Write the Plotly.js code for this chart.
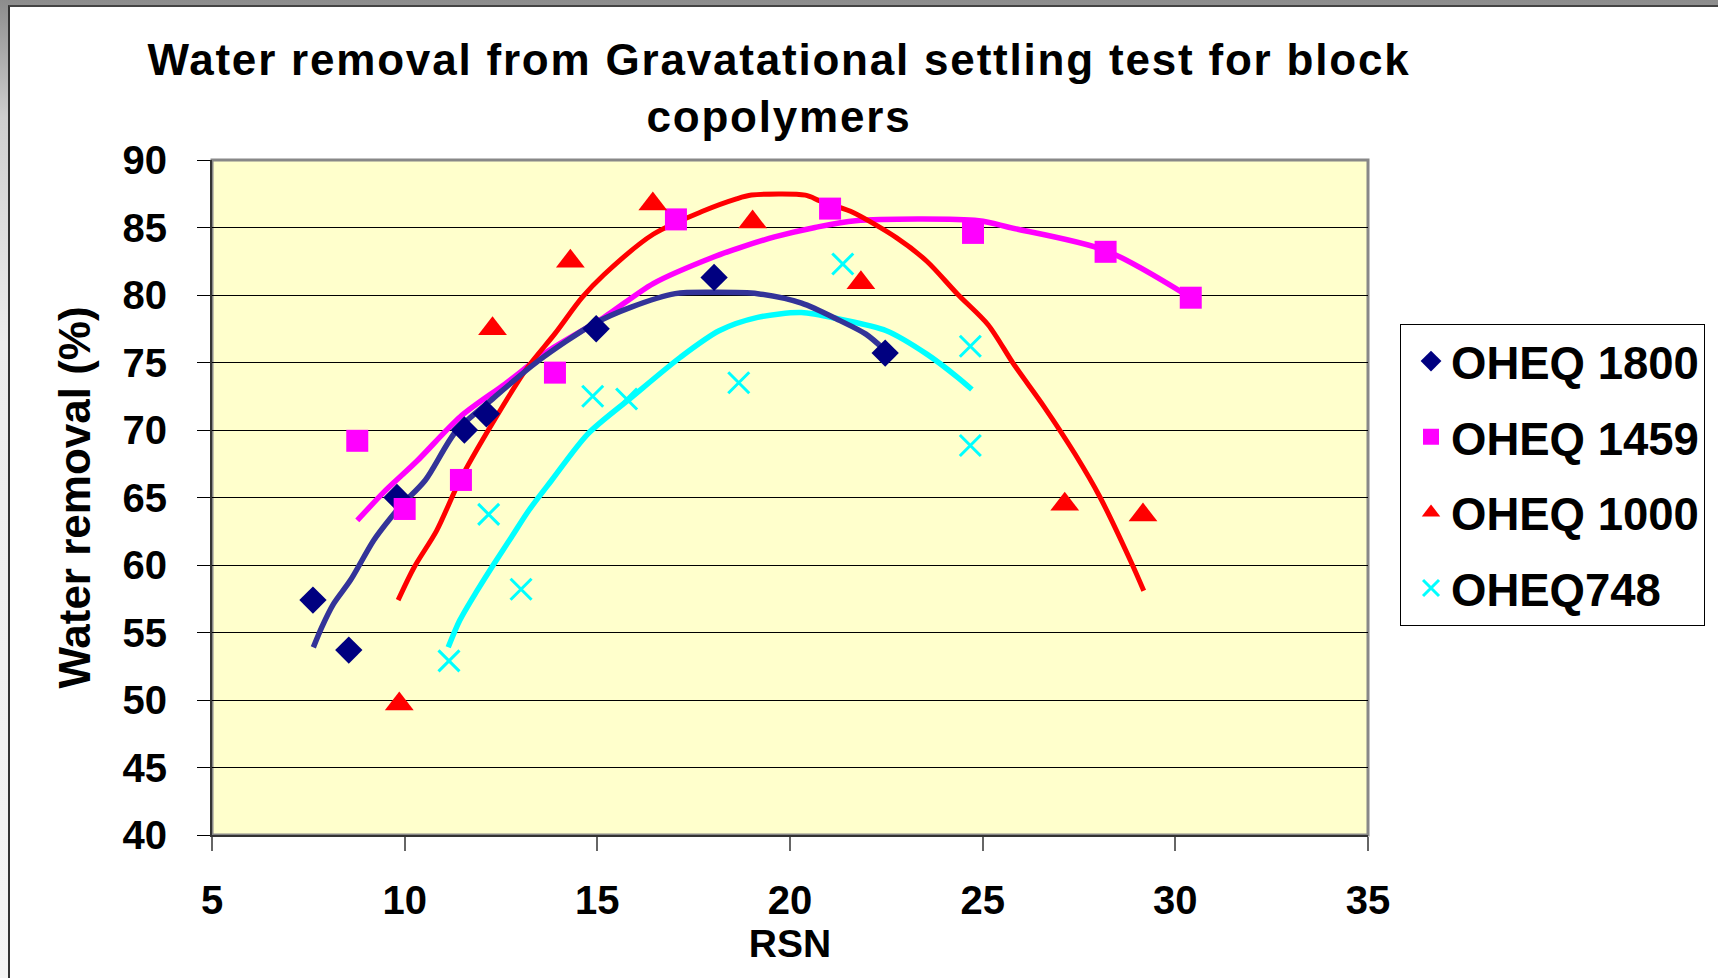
<!DOCTYPE html>
<html>
<head>
<meta charset="utf-8">
<script src="https://cdn.plot.ly/plotly-3.0.1.min.js"></script>
<style>
  html, body { margin: 0; padding: 0; }
  #page { position: relative; width: 1718px; height: 978px; overflow: hidden;
          background: linear-gradient(to bottom, #8c8c8c 0%, #cfcfcf 12%, #ececec 35%, #f4f4f4 100%); }
  #frame { position: absolute; left: 8px; top: 5px; width: 1708px; height: 971px;
           border-left: 2px solid #333; border-top: 2px solid #444; background: #fff; }
  #chart { width: 1708px; height: 971px; }
  #chart .gtitle { letter-spacing: 1.8px; }
</style>
</head>
<body>
<div id="page"><div id="frame"><div id="chart"></div></div></div>
<script>
// ---- data ----
const seriesNames = ["OHEQ 1800", "OHEQ 1459", "OHEQ 1000", "OHEQ748"];

// measured points
const x1800 = [7.62, 8.55, 9.8, 11.55, 12.12, 14.97, 18.03, 22.47];
const y1800 = [57.4, 53.7, 65.0, 70.0, 71.2, 77.5, 81.3, 75.7];
const x1459 = [8.77, 10.0, 11.46, 13.9, 17.04, 21.04, 24.75, 28.19, 30.4];
const y1459 = [69.2, 64.15, 66.3, 74.25, 85.6, 86.4, 84.6, 83.2, 79.8];
const x1000 = [9.86, 12.28, 14.3, 16.44, 19.03, 21.84, 27.13, 29.16];
const y1000 = [49.7, 77.5, 82.5, 86.75, 85.4, 80.9, 64.5, 63.7];
const x748  = [11.15, 12.18, 13.02, 14.88, 15.76, 18.67, 21.37, 24.68, 24.68];
const y748  = [52.9, 63.75, 58.2, 72.5, 72.3, 73.5, 82.3, 76.2, 68.85];

// trend curves
const tx1800 = [7.63, 7.85, 8.15, 8.6, 9.19, 9.64, 9.94, 10.54, 11.33, 12.32, 13.46, 14.9, 15.88, 17.02, 18.1, 19.16, 20.3, 21.3, 21.97, 22.47];
const ty1800 = [53.9, 55.4, 57.1, 58.9, 61.8, 63.5, 64.5, 66.3, 69.9, 72.4, 75.1, 77.85, 79.1, 80.1, 80.2, 80.1, 79.4, 78.1, 77.1, 75.9];
const tx1459 = [8.77, 9.46, 10.32, 11.45, 12.6, 13.75, 15.15, 16.45, 18.0, 18.8, 19.6, 20.65, 21.7, 24.9, 25.7, 28.19, 30.4];
const ty1459 = [63.3, 65.4, 67.7, 71.0, 73.4, 75.9, 78.3, 80.85, 82.8, 83.6, 84.3, 85.0, 85.5, 85.5, 85.0, 83.3, 79.8];
const tx1000 = [9.83, 10.24, 10.83, 11.43, 12.32, 13.18, 13.89, 14.6, 15.17, 16.45, 17.73, 18.59, 19.0, 20.4, 20.78, 21.57, 22.76, 23.55, 24.35, 25.14, 25.8, 26.6, 27.4, 28.05, 28.84, 29.18];
const ty1000 = [57.4, 59.8, 62.55, 66.25, 70.7, 74.6, 77.1, 79.8, 81.5, 84.5, 86.2, 87.1, 87.4, 87.4, 86.97, 86.2, 84.25, 82.5, 80.06, 77.8, 74.9, 71.7, 68.2, 65.0, 60.3, 58.1];
const tx748  = [11.13, 11.43, 11.88, 12.32, 12.77, 13.22, 13.81, 14.75, 15.88, 17.16, 18.16, 19.16, 20.3, 21.3, 22.5, 23.56, 24.35, 24.72];
const ty748  = [53.9, 55.9, 58.1, 60.1, 62.06, 64.04, 66.26, 69.7, 72.4, 75.4, 77.35, 78.34, 78.7, 78.2, 77.35, 75.6, 73.9, 73.0];

const xTicks = [5, 10, 15, 20, 25, 30, 35];
const yTicks = [40, 45, 50, 55, 60, 65, 70, 75, 80, 85, 90];

// ---- styling ----
const FONT = "Liberation Sans, Arial, Helvetica, sans-serif";
const cNavyMk = "#000080", cNavyLn = "#333399", cMag = "#FF00FF", cRed = "#FF0000", cCyan = "#00FFFF";

function trend(x, y, color, w) {
  return { x: x, y: y, type: "scatter", mode: "lines", showlegend: false, hoverinfo: "skip",
           line: { color: color, width: w, shape: "spline", smoothing: 0.8 } };
}
function pts(x, y, name, sym, color, size, group, extra) {
  const m = { symbol: sym, color: color, size: size, line: { width: 0 } };
  if (extra) Object.assign(m, extra);
  return { x: x, y: y, type: "scatter", mode: "markers", name: name, legendgroup: group, marker: m };
}

const data = [
  trend(tx1459, ty1459, cMag, 5.5),
  trend(tx1000, ty1000, cRed, 5),
  trend(tx748, ty748, cCyan, 5.5),
  trend(tx1800, ty1800, cNavyLn, 5.5),
  pts(x1800, y1800, seriesNames[0], "diamond", cNavyMk, 21, "g1"),
  pts(x1459, y1459, seriesNames[1], "square", cMag, 22, "g2"),
  pts(x1000, y1000, seriesNames[2], "triangle-up", cRed, 25, "g3"),
  pts(x748, y748, seriesNames[3], "x-thin", cCyan, 21, "g4", { line: { color: cCyan, width: 3 } })
];

const tickFont = { family: FONT, size: 40, color: "#000", weight: "bold" };

const layout = {
  width: 1708, height: 971,
  margin: { l: 202, r: 350, t: 153, b: 143, pad: 0 },
  paper_bgcolor: "#ffffff",
  plot_bgcolor: "#FFFFCC",
  font: { family: FONT, color: "#000" },
  title: {
    text: "Water removal from Gravatational settling test for block<br>copolymers",
    font: { family: FONT, size: 44, color: "#000", weight: "bold" },
    xref: "container", x: 0.4502, xanchor: "center",
    yref: "container", y: 0.930, yanchor: "top"
  },
  xaxis: {
    range: [5, 35], tickvals: xTicks, ticktext: xTicks.map(String),
    showgrid: false, zeroline: false,
    showline: true, linecolor: "#333", linewidth: 2,
    ticks: "outside", ticklen: 14, tickwidth: 2, tickcolor: "#666",
    tickfont: tickFont, ticklabelstandoff: 15,
    title: { text: "RSN", font: { family: FONT, size: 39, color: "#000", weight: "bold" }, standoff: 0 }
  },
  yaxis: {
    range: [40, 90], tickvals: yTicks, ticktext: yTicks.map(String),
    showgrid: true, gridcolor: "#000", gridwidth: 1, zeroline: false,
    showline: true, linecolor: "#333", linewidth: 2,
    ticks: "outside", ticklen: 13, tickwidth: 1, tickcolor: "#000",
    tickfont: tickFont, ticklabelstandoff: 22,
    title: { text: "Water removal (%)", font: { family: FONT, size: 44, color: "#000", weight: "bold" }, standoff: 18 }
  },
  shapes: [
    { type: "rect", xref: "paper", yref: "paper", x0: 0, x1: 1, y0: 0, y1: 1,
      line: { color: "#888", width: 3 }, fillcolor: "rgba(0,0,0,0)", layer: "below" }
  ],
  legend: {
    x: 1.0277, xanchor: "left", y: 0.757, yanchor: "top",
    bgcolor: "#ffffff", bordercolor: "#000", borderwidth: 1,
    font: { family: FONT, size: 45.5, color: "#000", weight: "bold" },
    traceorder: "grouped", tracegroupgap: 13.5, itemsizing: "trace", indentation: 10
  },
  showlegend: true
};

Plotly.newPlot("chart", data, layout, { displayModeBar: false, staticPlot: true });
</script>
</body>
</html>
